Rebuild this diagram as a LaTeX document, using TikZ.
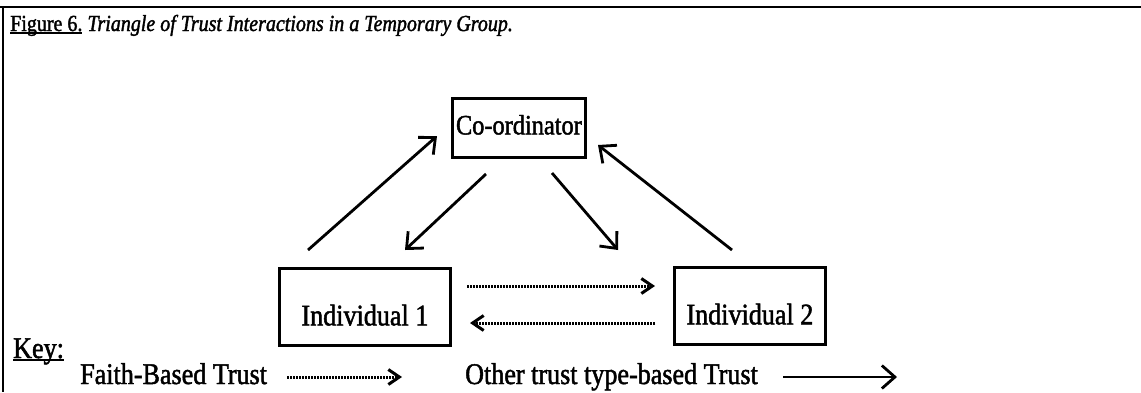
\documentclass[tikz,border=0pt]{standalone}
\usepackage{fontspec}
\setmainfont{Liberation Serif}[FakeStretch=0.87, FakeBold=1.6]
\usetikzlibrary{arrows.meta}

% underline at a fixed depth below the baseline
\newcommand{\undertext}[2][1.8pt]{\setbox0\hbox{#2}\rlap{\rule[-3pt]{\wd0}{#1}}\box0\relax}

\begin{document}
\begin{tikzpicture}[x=1pt,y=-1pt,
  frameline/.style={line width=2.8pt},
  entity/.style={draw, line width=2.8pt, inner sep=0pt, anchor=north west,
    font=\fontsize{30}{34}\selectfont},
  trustarrow/.style={line width=2.8pt,
    -{Straight Barb[length=13pt,width=23pt,line width=2.8pt]}},
  faitharrow/.style={line width=3pt, dash pattern=on 2pt off 1pt,
    -{Straight Barb[length=11pt,width=15pt,line width=3pt]}},
  keytext/.style={anchor=base west, inner sep=0pt,
    font=\fontsize{30}{34}\selectfont}]

\useasboundingbox (0,0) rectangle (1141,392);

% open frame: top rule and left rule
\coordinate (frameTL) at (3,7);
\coordinate (frameTR) at (1141,7);
\coordinate (frameBL) at (3,392);
\draw[frameline] (0,7) -- (frameTR);
\draw[frameline] (frameTL) -- (frameBL);

% caption
\node[anchor=base west, inner sep=0pt, font=\fontsize{23}{27}\selectfont] (caption) at (10,31)
  {\undertext{Figure 6.} \textit{Triangle of Trust Interactions in a Temporary Group.}};

% the three parties
\node[entity, minimum width=133pt, text height=36pt, text depth=23pt,
      font=\fontsize{28}{32}\selectfont] (coord) at (451,97) {Co-ordinator};
\node[entity, minimum width=171pt, text height=57pt, text depth=20pt] (ind1) at (278,267) {Individual 1};
\node[entity, minimum width=151pt, text height=57pt, text depth=20pt] (ind2) at (673,266) {Individual 2};

% free ends of the trust arrows
\coordinate (i1up)   at (308,250);
\coordinate (cdin1)  at (437,136);
\coordinate (cdout1) at (486,174);
\coordinate (i1in)   at (405,250);
\coordinate (cdout2) at (552,173);
\coordinate (i2in)   at (618,250);
\coordinate (i2up)   at (732,250);
\coordinate (cdin2)  at (598,145);

\draw[trustarrow] (i1up) -- (cdin1);
\draw[trustarrow] (cdout1) -- (i1in);
\draw[trustarrow] (cdout2) -- (i2in);
\draw[trustarrow] (i2up) -- (cdin2);

% faith-based trust between the individuals
\coordinate (f12s) at (467,286);
\coordinate (f12e) at (655,286);
\coordinate (f21s) at (655,323);
\coordinate (f21e) at (470,323);
\draw[faitharrow] (f12s) -- (f12e);
\draw[faitharrow] (f21s) -- (f21e);

% key
\node[keytext] (key) at (13,358) {\undertext{Key:}};
\node[keytext] (faith) at (80,384) {Faith-Based Trust};
\node[keytext] (other) at (465,384) {Other trust type-based Trust};
\coordinate (kfs) at (287,377);
\coordinate (kfe) at (402,377);
\coordinate (kos) at (783,377);
\coordinate (koe) at (897,377);
\draw[faitharrow] (kfs) -- (kfe);
\draw[trustarrow] (kos) -- (koe);

\end{tikzpicture}
\end{document}
